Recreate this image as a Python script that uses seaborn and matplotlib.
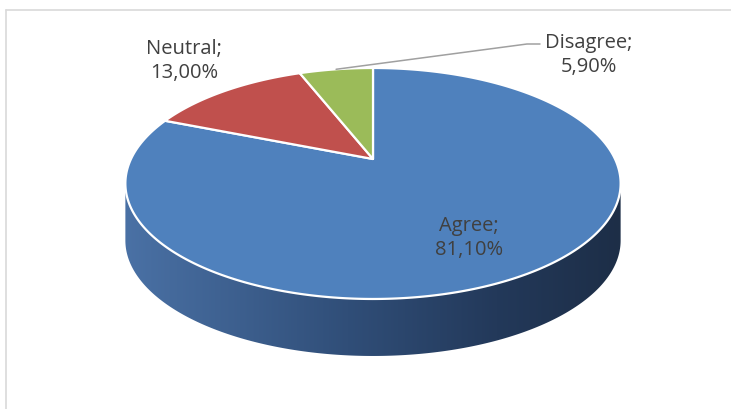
import numpy as np
import matplotlib
matplotlib.use("Agg")
import matplotlib.pyplot as plt
import seaborn as sns
from matplotlib.patches import Polygon
from matplotlib.colors import LinearSegmentedColormap

# Survey answers and their shares (percent)
categories = ["Agree", "Neutral", "Disagree"]
shares = [81.10, 13.00, 5.90]
slice_colors = ["#4F81BD", "#C0504D", "#9BBB59"]

sns.set_theme(style="white")
plt.rcParams["font.family"] = ["Open Sans", "DejaVu Sans"]

W, H = 731, 410
fig = plt.figure(figsize=(W / 100, H / 100), dpi=100)
ax = fig.add_axes([0, 0, 1, 1])

# Tilted-disc projection of the pie (pixel layout of the canvas)
CX, CY = 373.0, 160.0      # projected pie centre
RX, RY = 242.0, 110.3      # horizontal / depth radii
PERSP = 0.212              # perspective foreshortening of the far half
DEPTH = 57.0               # thickness of the disc


def project(u, v):
    d = 1.0 + PERSP * v
    return CX + RX * u / d, CY - RY * v / d


# Flat pie from the data, then tilted into a disc
wedges, _ = ax.pie(shares, startangle=90, counterclock=False,
                   colors=slice_colors, radius=1.0, center=(0, 0))
slices = []
for w in wedges:
    cx, cy = w.center
    th = np.deg2rad(np.linspace(w.theta1, w.theta2, 400))
    u = np.concatenate([[cx], cx + w.r * np.cos(th)])
    v = np.concatenate([[cy], cy + w.r * np.sin(th)])
    slices.append((u, v, w.get_facecolor(), w.theta1, w.theta2))
    w.remove()

# Visible front wall of the disc
k = np.arcsin(PERSP)
t = np.linspace(np.pi + k, 2 * np.pi - k, 400)
tx, ty = project(np.cos(t), np.sin(t))
wall = np.vstack([np.column_stack([tx, ty]),
                  np.column_stack([tx[::-1], ty[::-1] + DEPTH])])
wall_patch = Polygon(wall, closed=True, facecolor="none", edgecolor="none")
ax.add_patch(wall_patch)
wall_cmap = LinearSegmentedColormap.from_list(
    "wall", [(0.0, "#4a71a5"), (0.45, "#304e78"), (0.75, "#23395a"),
             (1.0, "#1d2e47")])
grad = np.linspace(0, 1, 256).reshape(1, -1)
img = ax.imshow(grad, cmap=wall_cmap, aspect="auto",
                extent=(tx.min(), tx.max(), ty.max() + DEPTH, ty.min()),
                interpolation="bilinear", zorder=1)
img.set_clip_path(wall_patch)

# Top face slices
for u, v, fc, th1, th2 in slices:
    x, y = project(u, v)
    ax.add_patch(Polygon(np.column_stack([x, y]), closed=True,
                         facecolor=fc, edgecolor="white", lw=1.6,
                         joinstyle="round", zorder=2))


def label_text(name, val):
    return f"{name};\n{val:.2f}%".replace(".", ",")


txt_kw = dict(ha="center", va="center", color="#404040", fontsize=14.5,
              linespacing=1.3, zorder=4)
ax.text(469, 238, label_text(categories[0], shares[0]), **txt_kw)
ax.text(184, 61, label_text(categories[1], shares[1]), **txt_kw)
ax.text(589, 55, label_text(categories[2], shares[2]), **txt_kw)

# Leader line from the small slice to its label
th1, th2 = slices[2][3], slices[2][4]
mid = np.deg2rad((th1 + th2) / 2)
lx, ly = project(np.cos(mid), np.sin(mid))
ax.plot([lx, 527, 540], [ly, 45, 45], color="#a0a0a0", lw=1.1, zorder=3)

# Chart-area frame
ax.plot([5.5, W], [10.5, 10.5], color="#d9d9d9", lw=1.2, zorder=0)
ax.plot([5.5, 5.5], [10.5, H], color="#d9d9d9", lw=1.2, zorder=0)

ax.set_aspect("auto")
ax.set_xlim(0, W)
ax.set_ylim(H, 0)
ax.axis("off")

fig.savefig("out.png", dpi=100)
